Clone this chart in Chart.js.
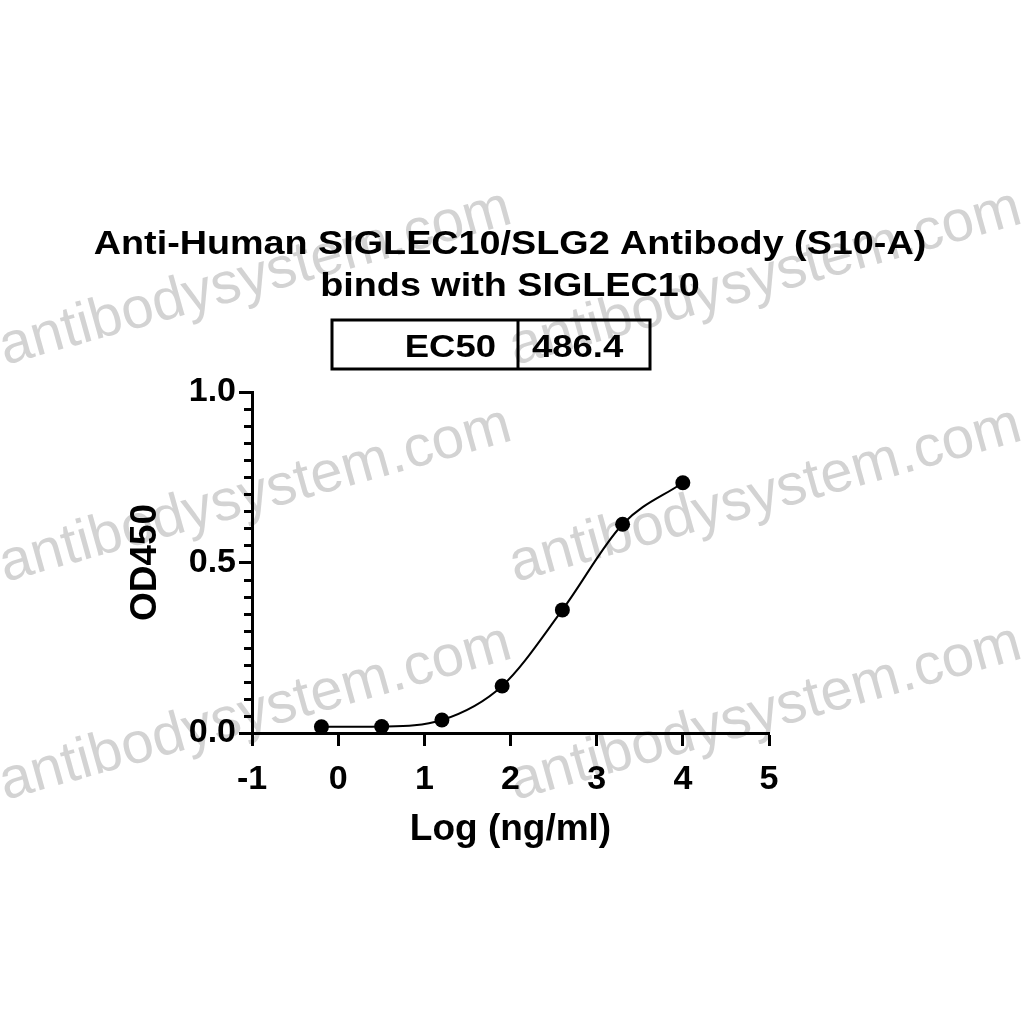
<!DOCTYPE html>
<html>
<head>
<meta charset="utf-8">
<script src="https://cdn.jsdelivr.net/npm/chart.js@4.4.1/dist/chart.umd.min.js"></script>
<style>
  html, body { margin: 0; padding: 0; background: #fff; }
  #wrap { width: 1024px; height: 1024px; position: relative; }
</style>
</head>
<body>
<div id="wrap"><canvas id="ec50Chart"></canvas></div>
<script>
// EC50 binding curve - SIGLEC10 (S10-A)
const titleLines = ['Anti-Human SIGLEC10/SLG2 Antibody (S10-A)', 'binds with SIGLEC10'];
const ec50Label = 'EC50';
const ec50Value = '486.4';
const xTitle = 'Log (ng/ml)';
const yTitle = 'OD450';
const watermark = 'antibodysystem.com';

// log10 concentration (ng/ml), 5-fold dilutions from 10000
const logConc = [-0.194, 0.505, 1.204, 1.903, 2.602, 3.301, 4.0];
const od450 = [0.018, 0.019, 0.038, 0.138, 0.361, 0.612, 0.734];

const xMin = -1, xMax = 5;
const yMin = 0, yMax = 1;
const yMinorStep = 0.05;

const FONT = '"Liberation Sans", Arial, Helvetica, sans-serif';

function stretchedText(ctx, txt, x, y, size, sx, align){
  ctx.save();
  ctx.font = `bold ${size}px ${FONT}`;
  ctx.textBaseline = 'alphabetic';
  ctx.textAlign = 'left';
  const w = ctx.measureText(txt).width * sx;
  let x0 = x;
  if(align === 'center') x0 = x - w/2;
  else if(align === 'right') x0 = x - w;
  ctx.translate(x0, y);
  ctx.scale(sx, 1);
  ctx.fillStyle = '#000';
  ctx.fillText(txt, 0, 0);
  ctx.restore();
}

const watermarkPlugin = {
  id: 'watermark',
  beforeDraw(chart){
    const ctx = chart.ctx;
    const rows = [365, 582, 800];
    const cols = [5, 515];
    ctx.save();
    ctx.font = `58px ${FONT}`;
    ctx.fillStyle = 'rgba(150,150,150,0.42)';
    for(const y of rows){
      for(const x of cols){
        ctx.save();
        ctx.translate(x, y);
        ctx.rotate(-15.6 * Math.PI / 180);
        ctx.fillText(watermark, 0, 0);
        ctx.restore();
      }
    }
    ctx.restore();
  }
};

const headerPlugin = {
  id: 'header',
  afterDraw(chart){
    const ctx = chart.ctx;
    stretchedText(ctx, titleLines[0], 510, 254, 34, 1.11, 'center');
    stretchedText(ctx, titleLines[1], 510, 296, 34, 1.11, 'center');
    // EC50 table
    ctx.save();
    ctx.strokeStyle = '#000';
    ctx.lineWidth = 3;
    ctx.strokeRect(332, 320, 318, 49);
    ctx.beginPath();
    ctx.moveTo(518, 320); ctx.lineTo(518, 369);
    ctx.stroke();
    ctx.restore();
    stretchedText(ctx, ec50Label, 496, 357, 32, 1.14, 'right');
    stretchedText(ctx, ec50Value, 532, 357, 32, 1.14, 'left');
  }
};

const minorTicksPlugin = {
  id: 'minorTicks',
  afterDraw(chart){
    const y = chart.scales.y;
    const ctx = chart.ctx;
    const left = chart.chartArea.left;
    ctx.save();
    ctx.strokeStyle = '#000';
    ctx.lineWidth = 3;
    for(let i = 1; i < Math.round((yMax - yMin) / yMinorStep); i++){
      if(i % 10 === 0) continue;
      const py = Math.round(y.getPixelForValue(yMin + i * yMinorStep)) + 0.5;
      ctx.beginPath();
      ctx.moveTo(left - 8, py);
      ctx.lineTo(left, py);
      ctx.stroke();
    }
    ctx.restore();
  }
};

const ctx = document.getElementById('ec50Chart');
new Chart(ctx, {
  type: 'scatter',
  data: {
    datasets: [{
      data: logConc.map((x, i) => ({ x, y: od450[i] })),
      showLine: true,
      cubicInterpolationMode: 'monotone',
      borderColor: '#000',
      borderWidth: 2,
      pointRadius: 7.5,
      pointHoverRadius: 7.5,
      pointBackgroundColor: '#000',
      pointBorderWidth: 0
    }]
  },
  options: {
    responsive: true,
    maintainAspectRatio: false,
    animation: false,
    layout: { padding: { left: 124, right: 255, top: 392, bottom: 172 } },
    plugins: { legend: { display: false }, tooltip: { enabled: false }, title: { display: false } },
    scales: {
      x: {
        type: 'linear', min: xMin, max: xMax,
        afterFit(s){ s.height = 119; },
        ticks: { stepSize: 1, color: '#000', padding: 13, font: { family: FONT, size: 34, weight: 'bold' } },
        grid: { display: true, drawOnChartArea: false, tickLength: 13, tickWidth: 3, color: '#000' },
        border: { display: true, width: 3, color: '#000' },
        title: { display: true, text: xTitle, color: '#000', padding: 0, font: { family: FONT, size: 37, weight: 'bold' } }
      },
      y: {
        type: 'linear', min: yMin, max: yMax,
        afterFit(s){ s.width = 128; },
        ticks: { stepSize: 0.5, color: '#000', padding: 3, font: { family: FONT, size: 34, weight: 'bold' },
          callback: v => Number(v).toFixed(1) },
        grid: { display: true, drawOnChartArea: false, tickLength: 13, tickWidth: 3, color: '#000' },
        border: { display: true, width: 3, color: '#000' },
        title: { display: true, text: yTitle, color: '#000', padding: 0, font: { family: FONT, size: 37, weight: 'bold' } }
      }
    }
  },
  plugins: [watermarkPlugin, headerPlugin, minorTicksPlugin]
});
</script>
</body>
</html>
